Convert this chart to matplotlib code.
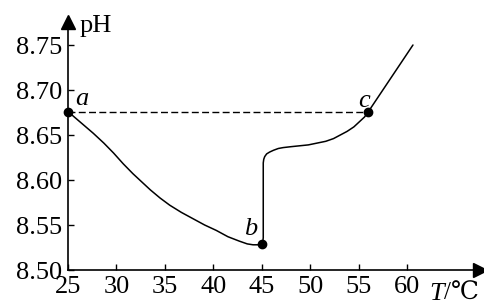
import matplotlib
matplotlib.use("Agg")
import matplotlib.pyplot as plt

# Data
T_fall = [25.0, 26.3, 27.6, 28.7, 29.7, 30.7, 31.7, 32.6, 33.5, 34.5, 35.5,
          36.7, 37.9, 39.1, 40.3, 41.5, 42.7, 43.5, 44.1, 44.6, 45.0]
pH_fall = [8.676, 8.664, 8.652, 8.641, 8.630, 8.618, 8.607, 8.598, 8.589, 8.580, 8.572,
           8.564, 8.557, 8.550, 8.544, 8.537, 8.532, 8.529, 8.528, 8.528, 8.529]
T_rise = [45.0, 45.1, 45.15, 45.15, 45.2, 45.3, 45.5, 45.8, 46.2, 46.7, 47.2, 48.0, 48.9,
          49.8, 50.7, 51.6, 52.4, 53.1, 53.8, 54.5, 55.1, 55.6, 56.0, 60.6]
pH_rise = [8.529, 8.531, 8.536, 8.619, 8.623, 8.626, 8.629, 8.631, 8.633, 8.635, 8.636, 8.637, 8.638,
           8.639, 8.641, 8.643, 8.646, 8.650, 8.654, 8.659, 8.665, 8.670, 8.676, 8.750]
pts_T = [25.0, 45.0, 56.0]
pts_pH = [8.676, 8.529, 8.676]
pts_lbl = ["a", "b", "c"]
lbl_T = [26.39, 43.83, 55.55]
lbl_pH = [8.6833, 8.539, 8.681]
xticks = [25, 30, 35, 40, 45, 50, 55, 60]
yticks = [8.50, 8.55, 8.60, 8.65, 8.70, 8.75]

plt.rcParams['font.family'] = ['Liberation Serif', 'DejaVu Serif', 'DejaVu Sans', 'Noto Sans CJK SC']

W, H = 485, 304
fig = plt.figure(figsize=(W / 100, H / 100), dpi=100)
L, R, B, Tp = 68, 480, 270, 22
ax = fig.add_axes([L / W, (H - B) / H, (R - L) / W, (B - Tp) / H])
pxT = 9.69
pxP = 900.0
ax.set_xlim(25, 25 + (R - L) / pxT)
ax.set_ylim(8.50, 8.50 + (B - Tp) / pxP)

ax.plot(T_fall, pH_fall, color='k', lw=1.1, solid_capstyle='round', solid_joinstyle='round')
ax.plot(T_rise, pH_rise, color='k', lw=1.1, solid_capstyle='round', solid_joinstyle='round')
ax.plot([pts_T[0], pts_T[2]], [pts_pH[0], pts_pH[2]], color='k', lw=1.0, ls=(0, (5, 2.4)))
ax.plot(pts_T, pts_pH, 'o', color='k', ms=6, clip_on=False, zorder=5)

for t, p, l in zip(lbl_T, lbl_pH, pts_lbl):
    ax.text(t, p, l, fontsize=19, style='italic', ha='center', va='baseline')

for s in ['top', 'right']:
    ax.spines[s].set_visible(False)
for s in ['left', 'bottom']:
    ax.spines[s].set_linewidth(1.2)

ax.set_xticks(xticks)
ax.set_xticklabels([str(v) for v in xticks])
ax.set_yticks(yticks)
ax.set_yticklabels([f"{v:.2f}" for v in yticks])
ax.tick_params(direction='in', length=4, width=1, labelsize=19)
ax.tick_params(axis='x', pad=4.5)
ax.tick_params(axis='y', pad=4)

ax.plot(1, 0, '>', color='k', ms=10, transform=ax.transAxes, clip_on=False)
ax.plot(0, 1, '^', color='k', ms=10, transform=ax.transAxes, clip_on=False)

ax.text(25 + (80 - L) / pxT, 8.50 + (B - 32) / pxP, "pH", fontsize=19,
        ha='left', va='baseline', clip_on=False)
ax.text(25 + (429 - L) / pxT, 8.50 + (B - 300) / pxP, "T", fontsize=19, style='italic',
        ha='left', va='baseline', clip_on=False)
ax.text(25 + (444 - L) / pxT, 8.50 + (B - 300) / pxP, "/℃", fontsize=18,
        ha='left', va='baseline', clip_on=False)

fig.savefig("out.png", dpi=100)
